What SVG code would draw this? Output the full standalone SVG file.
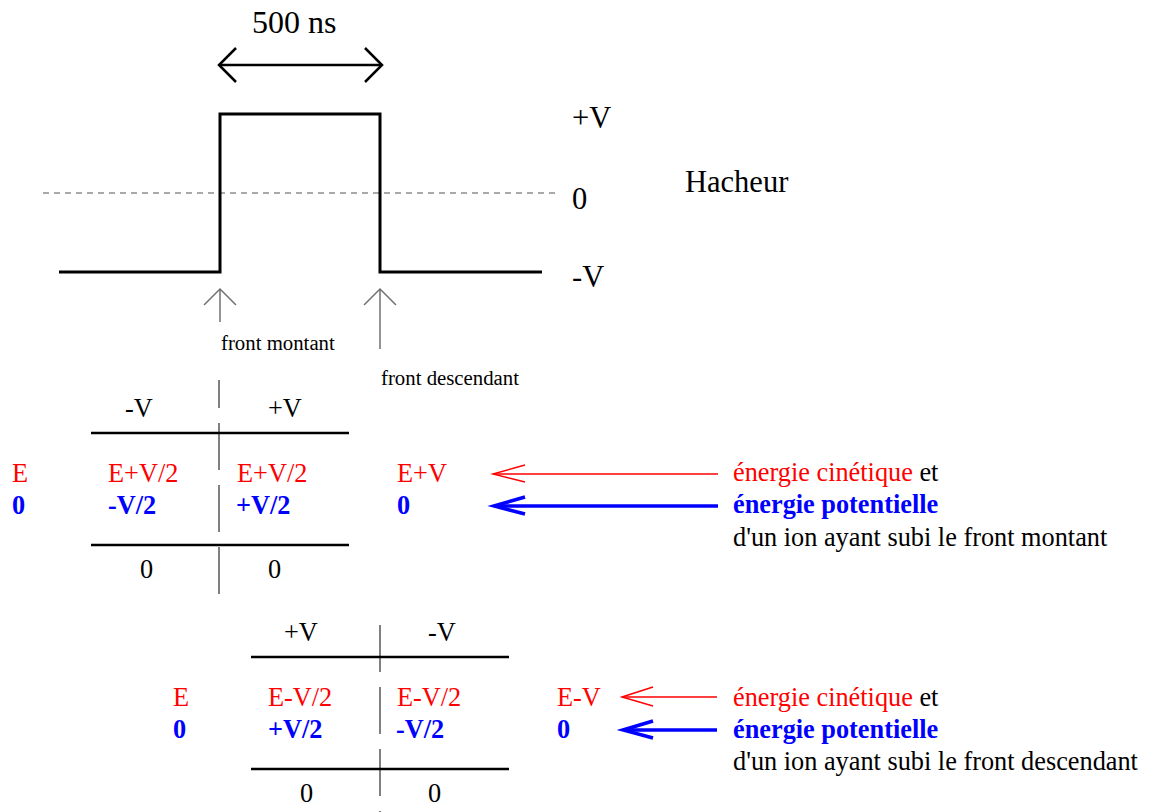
<svg xmlns="http://www.w3.org/2000/svg" width="1150" height="812" viewBox="0 0 1150 812">
<style>
text{font-family:"Liberation Serif","Times New Roman",serif;}
.t{font-size:26.3px;fill:#000}
.r{font-size:26.3px;fill:#ff0000}
.b{font-size:26.3px;fill:#0000ff;font-weight:bold}
.big{font-size:30.5px;fill:#000}
.sm{font-size:20.8px;fill:#000}
.wave{fill:none;stroke:#000;stroke-width:3}
.hl{stroke:#000;stroke-width:2.5}
.vd{stroke:#808080;stroke-width:2;stroke-dasharray:47 15}
.ga{fill:none;stroke:#707070;stroke-width:1.5}
.ra{fill:none;stroke:#ff0000;stroke-width:1.5}
.ba{fill:none;stroke:#0000ff;stroke-width:3.5}
</style>
<rect width="1150" height="812" fill="#fff"/>
<g id="chronogramme">
<line x1="43" y1="193" x2="556" y2="193" stroke="#555" stroke-width="1.2" stroke-dasharray="6 5"/>
<polyline class="wave" points="59,272 220,272 220,114 380,114 380,272 542,272"/>
<text x="252" y="33" style="font-size:32px">500 ns</text>
<text class="big" x="572" y="128">+V</text>
<text class="big" x="572" y="209">0</text>
<text class="big" x="572" y="287">-V</text>
<text class="big" x="685" y="192">Hacheur</text>
</g>
<g id="fleches-fronts">
<line x1="219" y1="65" x2="382" y2="65" stroke="#000" stroke-width="2.5"/>
<polyline points="236,48 219,65 236,82" fill="none" stroke="#000" stroke-width="2.5"/>
<polyline points="365,48 382,65 365,82" fill="none" stroke="#000" stroke-width="2.5"/>
<line class="ga" x1="220" y1="289" x2="220" y2="322"/>
<polyline class="ga" points="204,305 220,289 236,305"/>
<line class="ga" x1="380" y1="289" x2="380" y2="349"/>
<polyline class="ga" points="364,305 380,289 396,305"/>
<text class="sm" x="221" y="350">front montant</text>
<text class="sm" x="381" y="385">front descendant</text>
</g>
<g id="tableau-montant">
<line class="vd" x1="219" y1="380" x2="219" y2="594" stroke-dashoffset="19"/>
<line class="hl" x1="91" y1="433" x2="349" y2="433"/>
<line class="hl" x1="91" y1="545" x2="349" y2="545"/>
<text class="t" x="125" y="417">-V</text>
<text class="t" x="268" y="417">+V</text>
<text class="r" x="12" y="482">E</text>
<text class="r" x="108" y="482">E+V/2</text>
<text class="r" x="237" y="482">E+V/2</text>
<text class="r" x="397" y="482">E+V</text>
<text class="b" x="12" y="514">0</text>
<text class="b" x="108" y="514">-V/2</text>
<text class="b" x="236" y="514">+V/2</text>
<text class="b" x="397" y="514">0</text>
<text class="t" x="140" y="578">0</text>
<text class="t" x="268" y="578">0</text>
</g>
<g id="legende-montant">
<text class="r" x="733" y="481">énergie cinétique <tspan fill="#000">et</tspan></text>
<text class="b" x="733" y="513">énergie potentielle</text>
<text class="t" x="733" y="546">d'un ion ayant subi le front montant</text>
</g>
<g id="tableau-descendant">
<line class="vd" x1="380" y1="625" x2="380" y2="812"/>
<line class="hl" x1="251" y1="657" x2="509" y2="657"/>
<line class="hl" x1="251" y1="769" x2="509" y2="769"/>
<text class="t" x="284" y="641">+V</text>
<text class="t" x="428" y="641">-V</text>
<text class="r" x="173" y="706">E</text>
<text class="r" x="268" y="706">E-V/2</text>
<text class="r" x="397" y="706">E-V/2</text>
<text class="r" x="557" y="706">E-V</text>
<text class="b" x="173" y="738">0</text>
<text class="b" x="268" y="738">+V/2</text>
<text class="b" x="396" y="738">-V/2</text>
<text class="b" x="557" y="738">0</text>
<text class="t" x="300" y="802">0</text>
<text class="t" x="428" y="802">0</text>
</g>
<g id="legende-descendant">
<text class="r" x="733" y="706">énergie cinétique <tspan fill="#000">et</tspan></text>
<text class="b" x="733" y="738">énergie potentielle</text>
<text class="t" x="733" y="770">d'un ion ayant subi le front descendant</text>
</g>
<g id="connecteurs">
<line class="ra" x1="493" y1="474" x2="718" y2="474"/>
<polyline class="ra" points="525,465 493,474 525,482"/>
<line class="ba" x1="495" y1="506" x2="718" y2="506"/>
<polyline class="ba" points="525,497 494,506 525,514"/>
<line class="ra" x1="622" y1="697" x2="717" y2="697"/>
<polyline class="ra" points="653,687 622,697 653,706"/>
<line class="ba" x1="624" y1="730" x2="717" y2="730"/>
<polyline class="ba" points="653,721 623,730 653,738"/>
</g>
</svg>
